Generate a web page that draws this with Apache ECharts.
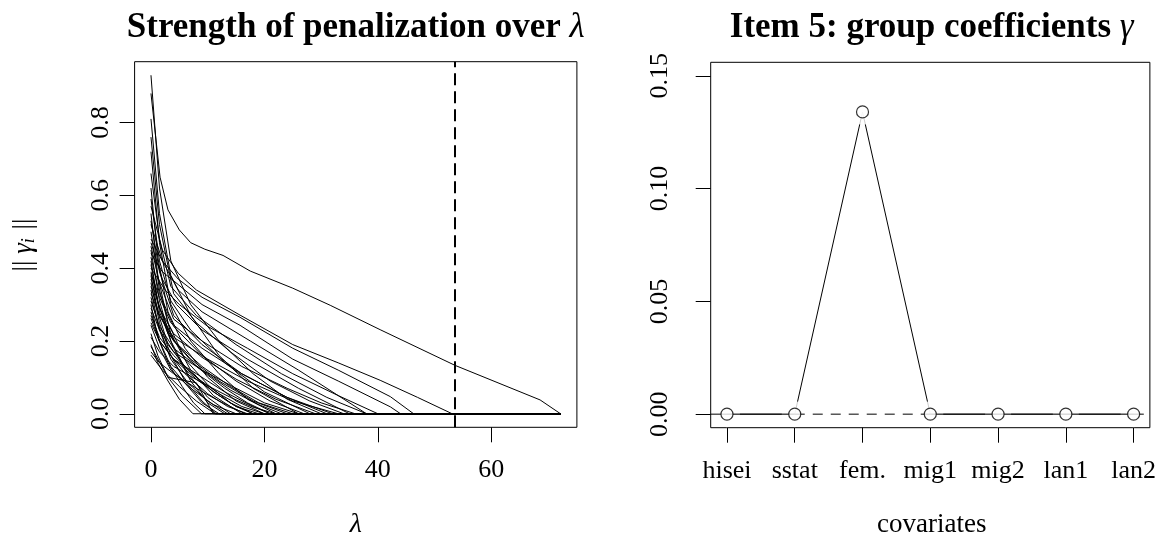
<!DOCTYPE html>
<html>
<head>
<meta charset="utf-8">
<script src="https://cdn.jsdelivr.net/npm/echarts@6/dist/echarts.min.js"></script>
<style>
  html, body { margin: 0; padding: 0; background: #fff; }
  #chart { width: 1159px; height: 551px; }
</style>
</head>
<body>
<div id="chart"></div>
<script>
// ---- Left panel: norm of each item's group coefficients along the penalty path ----
const lambdaMax = 72.2;          // end of the lambda grid
const lambdaSelected = 53.6;     // chosen penalty (dashed vertical)
const lambdaTicks = [0, 20, 40, 60];
const normTicks = [0, 0.2, 0.4, 0.6, 0.8];

// each path: [lambda, ||gamma_i||] knots until it reaches zero
const pathsHigh = [
  [[0,0.88],[1.6,0.65],[3,0.56],[5,0.505],[7,0.47],[9.5,0.452],[12.7,0.435],[17.5,0.392],[25,0.345],[31.6,0.298],[40.4,0.231],[53.6,0.133],[68.6,0.038],[72.2,0]],
  [[0,0.93],[1.5,0.62],[3.5,0.42],[7,0.3],[12,0.2],[18,0.11],[24,0.04],[30,0]],
  [[0,0.81],[1.5,0.55],[3.5,0.38],[7,0.27],[12,0.16],[18,0.07],[26,0]],
  [[0,0.76],[1.5,0.52],[4,0.33],[8,0.25],[14,0.17],[21,0.09],[28,0.035],[34,0]],
  [[0,0.72],[1.5,0.47],[3.5,0.3],[7,0.2],[12,0.11],[17,0.04],[22,0]],
  [[0,0.66],[1.5,0.48],[3.5,0.35],[8,0.27],[15,0.19],[23,0.11],[31,0.045],[38,0]],
  [[0,0.62],[1.2,0.43],[3,0.28],[6,0.18],[10,0.1],[15,0.035],[20,0]],
  [[0,0.59],[1.5,0.42],[3.5,0.31],[7,0.23],[13,0.14],[20,0.06],[28,0]],
  [[0,0.57],[2,0.45],[4.8,0.386],[8,0.34],[15.7,0.271],[25,0.19],[33,0.14],[40.4,0.092],[47,0.045],[53.1,0]],
  [[0,0.55],[1.2,0.38],[3,0.25],[6,0.15],[10,0.08],[14,0.03],[18,0]],
  [[0,0.53],[1.5,0.39],[4,0.27],[9,0.19],[16,0.11],[24,0.045],[32,0]],
  [[0,0.52],[2,0.42],[4.8,0.34],[9,0.28],[17.5,0.2],[26,0.12],[33,0.05],[38,0]],
  [[0,0.5],[1.5,0.34],[3.5,0.22],[7,0.12],[11,0.05],[16,0]]
];
const pathsMid = [
  [[0,0.48],[2,0.42],[4.8,0.37],[9,0.32],[15.7,0.265],[25,0.18],[33,0.12],[42.2,0.047],[46.3,0]],
  [[0,0.47],[2,0.37],[4.5,0.3],[9,0.23],[17,0.15],[26,0.07],[35,0]],
  [[0,0.46],[1.5,0.36],[4,0.26],[9,0.2],[16,0.13],[24,0.07],[30,0.03],[36,0]],
  [[0,0.45],[1.5,0.31],[3.5,0.2],[6.5,0.11],[10,0.045],[14,0]],
  [[0,0.44],[2,0.39],[4.8,0.355],[9,0.3],[15.7,0.243],[25,0.15],[33,0.09],[42.2,0.019],[44,0]],
  [[0,0.43],[1.5,0.33],[4,0.24],[9,0.16],[15,0.09],[21,0.035],[27,0]],
  [[0,0.42],[1.2,0.31],[3,0.22],[7,0.15],[12,0.09],[18,0.035],[24,0]],
  [[0,0.41],[1.5,0.28],[4,0.18],[7,0.09],[10,0.03],[13,0]],
  [[0,0.4],[2.5,0.34],[5,0.3],[10,0.24],[17,0.18],[25,0.11],[33,0.05],[40,0]],
  [[0,0.385],[1.5,0.32],[3.5,0.25],[9,0.18],[16,0.11],[24,0.045],[31,0]],
  [[0,0.39],[1.5,0.29],[4,0.2],[8,0.13],[13,0.07],[17,0.03],[21,0]],
  [[0,0.38],[1.2,0.28],[3,0.19],[6.5,0.12],[11,0.06],[15,0.02],[19,0]],
  [[0,0.37],[1.5,0.29],[4,0.22],[9,0.155],[15,0.095],[22,0.04],[29,0]],
  [[0,0.36],[1.5,0.25],[3.5,0.16],[6,0.09],[9,0.035],[11.5,0]],
  [[0,0.35],[1.5,0.27],[4,0.2],[9,0.13],[14,0.075],[19,0.03],[25,0]],
  [[0,0.34],[1.2,0.25],[3,0.17],[6,0.11],[10,0.055],[13.5,0.02],[17,0]],
  [[0,0.33],[1.5,0.27],[4,0.21],[10,0.15],[17,0.09],[25,0.035],[33,0]],
  [[0,0.32],[1.5,0.23],[3.5,0.15],[6.5,0.085],[10,0.035],[13.5,0]],
  [[0,0.31],[1.5,0.24],[4,0.18],[9,0.12],[14,0.065],[19,0.025],[23,0]],
  [[0,0.3],[1.2,0.21],[3,0.14],[5.5,0.075],[7.5,0.03],[9.5,0]]
];
const pathsLow = [
  [[0,0.29],[1.5,0.23],[4,0.17],[9,0.12],[15,0.07],[20,0.03],[26,0]],
  [[0,0.28],[1.5,0.2],[3.5,0.13],[6.5,0.075],[9,0.03],[12,0]],
  [[0,0.27],[1.5,0.21],[4,0.16],[8,0.1],[12,0.055],[16,0.02],[20,0]],
  [[0,0.262],[1.5,0.2],[4,0.15],[8,0.11],[13,0.06],[18,0.02],[21,0]],
  [[0,0.185],[3,0.1],[8,0.085],[11,0]],
  [[0,0.25],[1.5,0.2],[4,0.15],[8,0.095],[12,0.05],[15,0.02],[18,0]],
  [[0,0.243],[1.5,0.18],[3.5,0.12],[7,0.07],[11,0.025],[15,0]],
  [[0,0.22],[1.2,0.16],[3,0.1],[5.5,0.05],[8.9,0]],
  [[0,0.21],[1.5,0.17],[4,0.13],[9,0.085],[14,0.045],[18,0.018],[22,0]],
  [[0,0.19],[1.2,0.14],[3,0.09],[5,0.04],[7.4,0]],
  [[0,0.17],[1.5,0.14],[4,0.11],[8,0.07],[12,0.035],[16.6,0]],
  [[0,0.161],[2,0.12],[5,0.075],[8,0.035],[11.3,0]]
];

// ---- Right panel: group coefficients of item 5 ----
const covariates = ['hisei', 'sstat', 'fem.', 'mig1', 'mig2', 'lan1', 'lan2'];
const gammaItem5 = [0, 0, 0.134, 0, 0, 0, 0];
const gammaTicks = [0, 0.05, 0.10, 0.15];
// zero reference line: solid / dashed / solid pieces between these x stops
const refStops = [0.76, 2, 4, 7.15];

const SERIF = "'Liberation Serif', 'DejaVu Serif', serif";
const TICK_FS = 26;
const BLACK = '#000';

const allPaths = [...pathsHigh, ...pathsMid, ...pathsLow];
const yMaxL = 0.93, xMaxL = lambdaMax;

function axisCommon(ticks, fmt, margin, rotate) {
  return {
    axisLine: { show: false, onZero: false },
    splitLine: { show: false },
    axisTick: { show: true, inside: false, length: 15, customValues: ticks,
                lineStyle: { color: BLACK, width: 1 } },
    axisLabel: { show: true, customValues: ticks, formatter: fmt, margin: margin, rotate: rotate || 0,
                 color: BLACK, fontFamily: SERIF, fontSize: TICK_FS }
  };
}

const series = allPaths.map((p, i) => {
  const last = p[p.length - 1];
  const data = last[0] < lambdaMax ? p.concat([[lambdaMax, 0]]) : p;
  const s = {
    type: 'line', xAxisIndex: 0, yAxisIndex: 0, data: data,
    showSymbol: false, symbol: 'none', silent: true, animation: false,
    lineStyle: { color: BLACK, width: 1 }
  };
  if (i === 0) {
    s.markLine = {
      silent: true, symbol: ['none', 'none'], label: { show: false },
      lineStyle: { color: BLACK, width: 2, type: [12, 6] },
      data: [{ xAxis: lambdaSelected }]
    };
  }
  return s;
});

const gammaPoints = covariates.map((c, i) => [i + 1, gammaItem5[i]]);

series.push(
  { // connecting line through the coefficients
    type: 'line', xAxisIndex: 1, yAxisIndex: 1, z: 1, data: gammaPoints,
    showSymbol: false, symbol: 'none', silent: true, animation: false,
    lineStyle: { color: BLACK, width: 1 }
  },
  { // white gap around each point
    type: 'scatter', xAxisIndex: 1, yAxisIndex: 1, z: 2, data: gammaPoints,
    symbol: 'circle', symbolSize: 26, silent: true, animation: false,
    itemStyle: { color: '#fff', borderWidth: 0 }
  },
  {
    type: 'line', xAxisIndex: 1, yAxisIndex: 1, z: 3,
    data: [[refStops[0], 0], [refStops[1], 0]],
    showSymbol: false, symbol: 'none', silent: true, animation: false,
    lineStyle: { color: BLACK, width: 1 }
  },
  {
    type: 'line', xAxisIndex: 1, yAxisIndex: 1, z: 3,
    data: [[refStops[1], 0], [refStops[2], 0]],
    showSymbol: false, symbol: 'none', silent: true, animation: false,
    lineStyle: { color: BLACK, width: 1, type: [10, 8] }
  },
  {
    type: 'line', xAxisIndex: 1, yAxisIndex: 1, z: 3,
    data: [[refStops[2], 0], [refStops[3], 0]],
    showSymbol: false, symbol: 'none', silent: true, animation: false,
    lineStyle: { color: BLACK, width: 1 }
  },
  {
    type: 'scatter', xAxisIndex: 1, yAxisIndex: 1, z: 4, data: gammaPoints,
    symbol: 'circle', symbolSize: 12, silent: true, animation: false,
    itemStyle: { color: '#fff', borderColor: BLACK, borderWidth: 1.2 }
  }
);

const titleStyle = { fontFamily: SERIF, fontSize: 35, fontWeight: 'bold', fill: BLACK };
const mathStyle = { fontFamily: SERIF, fontSize: 35, fontStyle: 'italic', fill: BLACK };

const option = {
  backgroundColor: '#fff',
  animation: false,
  grid: [
    { left: 134.6, top: 61.7, width: 442.3, height: 365.6, show: true,
      borderColor: BLACK, borderWidth: 1, backgroundColor: 'transparent' },
    { left: 710.7, top: 62.3, width: 442, height: 365.4, show: true,
      borderColor: BLACK, borderWidth: 1, backgroundColor: 'transparent' }
  ],
  xAxis: [
    Object.assign({ type: 'value', gridIndex: 0, min: -0.04 * xMaxL, max: 1.04 * xMaxL },
      axisCommon(lambdaTicks, v => String(v), 30)),
    Object.assign({ type: 'value', gridIndex: 1, min: 0.76, max: 7.24 },
      axisCommon([1, 2, 3, 4, 5, 6, 7], v => covariates[Math.round(v) - 1], 30))
  ],
  yAxis: [
    Object.assign({ type: 'value', gridIndex: 0, min: -0.04 * yMaxL, max: 1.04 * yMaxL },
      axisCommon(normTicks, v => v.toFixed(1), 20, 90)),
    Object.assign({ type: 'value', gridIndex: 1, min: -0.006, max: 0.156 },
      axisCommon(gammaTicks, v => v.toFixed(2), 38, 90))
  ],
  series: series,
  graphic: [
    { type: 'text', x: 355.7, y: 28, silent: true,
      style: { text: '{b|Strength of penalization over }{m|λ}', align: 'center', verticalAlign: 'middle',
               rich: { b: titleStyle, m: mathStyle } } },
    { type: 'text', x: 931.7, y: 28, silent: true,
      style: { text: '{b|Item 5: group coefficients }{m|γ}', align: 'center', verticalAlign: 'middle',
               rich: { b: titleStyle, m: mathStyle } } },
    { type: 'text', x: 355.7, y: 525, silent: true,
      style: { text: 'λ', font: 'italic 28px ' + SERIF, fill: BLACK, align: 'center', verticalAlign: 'middle' } },
    { type: 'text', x: 931.7, y: 525, silent: true,
      style: { text: 'covariates', font: '27px ' + SERIF, fill: BLACK, align: 'center', verticalAlign: 'middle' } },
    { type: 'text', x: 24, y: 245, rotation: Math.PI / 2, silent: true,
      style: { text: '{n||| }{g|γ}{s|i}{n| ||}', align: 'center', verticalAlign: 'middle',
               rich: {
                 n: { fontFamily: SERIF, fontSize: 27, fill: BLACK },
                 g: { fontFamily: SERIF, fontSize: 27, fontStyle: 'italic', fill: BLACK },
                 s: { fontFamily: SERIF, fontSize: 18, fontStyle: 'italic', fill: BLACK,
                      verticalAlign: 'bottom', padding: [10, 2, 0, 0] }
               } } }
  ]
};

const chart = echarts.init(document.getElementById('chart'), null, { renderer: 'canvas' });
chart.setOption(option);
</script>
</body>
</html>
